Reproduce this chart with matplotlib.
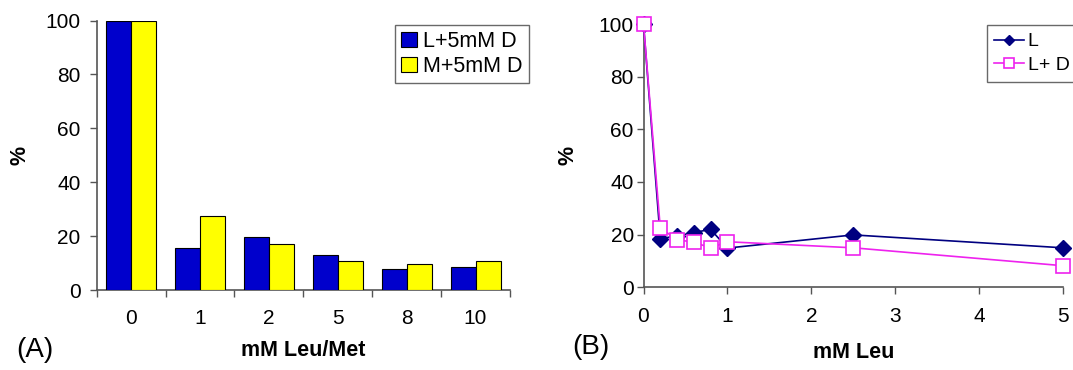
import matplotlib
matplotlib.use("Agg")
import matplotlib.pyplot as plt
import numpy as np

plt.rcParams['font.family'] = ['Liberation Sans', 'DejaVu Sans']

# Panel A data
categories_a = ["0", "1", "2", "5", "8", "10"]
l_5mM_d = [100, 15.4, 19.7, 13.0, 7.8, 8.7]
m_5mM_d = [100, 27.6, 17.2, 10.6, 9.6, 10.9]

# Panel B data
leu_mM = [0, 0.2, 0.4, 0.6, 0.8, 1.0, 2.5, 5]
l_only = [100, 18.5, 19.5, 20.8, 22.0, 14.9, 19.9, 15.0]
l_plus_d = [100, 22.5, 18.1, 17.1, 15.0, 17.3, 15.0, 8.2]

yticks = [0, 20, 40, 60, 80, 100]
xticks_b = [0, 1, 2, 3, 4, 5]

W, H = 1073, 370
fig = plt.figure(figsize=(W / 100, H / 100), dpi=100)

def ax_at(l, t, r, b):
    return fig.add_axes([l / W, 1 - b / H, (r - l) / W, (b - t) / H])

spine_c = "#555555"
tick_fs = 15
lab_fs = 15.5

# ---- Panel A ----
axA = ax_at(96.7, 20.5, 510, 290)
x = np.arange(len(categories_a))
bw = 0.363
axA.bar(x - bw / 2, l_5mM_d, bw, color="#0000cc", edgecolor="black", linewidth=0.8,
        label="L+5mM D", zorder=3)
axA.bar(x + bw / 2, m_5mM_d, bw, color="#ffff00", edgecolor="black", linewidth=0.8,
        label="M+5mM D", zorder=3)
axA.set_xlim(-0.5, len(categories_a) - 0.5)
axA.set_ylim(0, 100)
axA.set_yticks(yticks)
axA.set_xticks(x)
axA.set_xticklabels(categories_a)
axA.set_xticks(np.arange(-0.5, len(categories_a)), minor=True)
axA.tick_params(axis="x", which="major", length=0, pad=13.5, labelsize=tick_fs)
axA.tick_params(axis="x", which="minor", length=5, width=1, color=spine_c)
axA.tick_params(axis="y", length=5, width=1, color=spine_c, pad=6.5, labelsize=tick_fs)
for s in ["top", "right"]:
    axA.spines[s].set_visible(False)
for s in ["left", "bottom"]:
    axA.spines[s].set_color(spine_c)
    axA.spines[s].set_linewidth(1.2)
axA.set_ylabel("%", fontsize=lab_fs, fontweight="bold")
axA.yaxis.set_label_coords((20.5 - 96.7) / (510 - 96.7), 0.5)
axA.yaxis.label.set_va("center")
axA.set_xlabel("mM Leu/Met", fontsize=lab_fs, fontweight="bold")
axA.xaxis.set_label_coords(0.5, (290 - 351) / (290 - 20.5))
axA.xaxis.label.set_va("center")
legA = axA.legend(loc="upper left", bbox_to_anchor=(395 / W, 1 - 25 / H), bbox_transform=fig.transFigure,
                  frameon=True, fancybox=False, fontsize=15.5, handlelength=0.7, handleheight=0.7,
                  handletextpad=0.3, borderpad=0.3, labelspacing=0.15, borderaxespad=0)
legA.get_frame().set_edgecolor("#444444")
legA.get_frame().set_linewidth(1.0)
fig.text(16 / W, 1 - 350 / H, "(A)", fontsize=20, va="center", ha="left")

# ---- Panel B ----
axB = ax_at(643.5, 24, 1063, 287.3)
axB.plot(leu_mM, l_only, color="#000080", marker="D", markersize=8, markerfacecolor="#000080",
         markeredgecolor="#000080", linewidth=1.2, label="L", clip_on=False, zorder=3)
axB.plot(leu_mM, l_plus_d, color="#ee22ee", marker="s", markersize=10, markerfacecolor="white",
         markeredgecolor="#ee22ee", markeredgewidth=1.2, linewidth=1.2, label="L+ D", clip_on=False,
         zorder=4)
axB.set_xlim(0, 5)
axB.set_ylim(0, 100)
axB.set_xticks(xticks_b)
axB.set_yticks(yticks)
axB.tick_params(axis="x", length=5, width=1, color=spine_c, pad=9.5, labelsize=tick_fs)
axB.tick_params(axis="y", length=5, width=1, color=spine_c, pad=2, labelsize=tick_fs)
for s in ["top", "right"]:
    axB.spines[s].set_visible(False)
for s in ["left", "bottom"]:
    axB.spines[s].set_color(spine_c)
    axB.spines[s].set_linewidth(1.2)
axB.set_ylabel("%", fontsize=lab_fs, fontweight="bold")
axB.yaxis.set_label_coords((568 - 643.5) / (1063 - 643.5), 0.5)
axB.yaxis.label.set_va("center")
axB.set_xlabel("mM Leu", fontsize=lab_fs, fontweight="bold")
axB.xaxis.set_label_coords(0.5, (287.3 - 352) / (287.3 - 24))
axB.xaxis.label.set_va("center")
legB = axB.legend(loc="upper left", bbox_to_anchor=(986.7 / W, 1 - 25 / H), bbox_transform=fig.transFigure,
                  frameon=True, fancybox=False, fontsize=14, handlelength=1.5, handletextpad=0.2,
                  borderpad=0.4, labelspacing=0.3, borderaxespad=0, markerscale=0.7)
legB.get_frame().set_edgecolor("#444444")
legB.get_frame().set_linewidth(1.0)
fig.text(572 / W, 1 - 347 / H, "(B)", fontsize=20, va="center", ha="left")

fig.savefig("out.png", dpi=100)
